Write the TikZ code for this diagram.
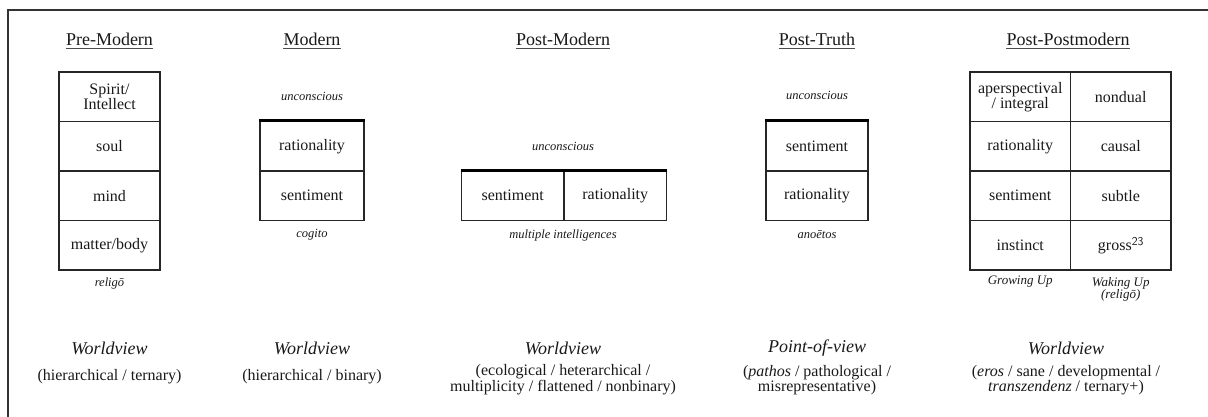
\documentclass[tikz,border=0pt]{standalone}
\usepackage{fontspec}
\setmainfont{Liberation Serif}
\begin{document}
\begin{tikzpicture}[x=1pt,y=-1pt,
  frameline/.style={line width=1.4pt,draw=black!80},
  title/.style={font=\fontsize{18}{20}\selectfont,inner xsep=0pt,text=black!90},
  uline/.style={line width=0.9pt,draw=black!70},
  cell/.style={draw=black!85,line width=1.2pt,minimum height=49.5pt,inner sep=0pt,
    align=center,font=\fontsize{16}{15}\selectfont,text=black!90},
  topbar/.style={line width=3pt,draw=black},
  smallit/.style={font=\fontsize{12.5}{12}\selectfont\itshape,align=center,text=black!90},
  subit/.style={font=\fontsize{13}{12}\selectfont\itshape,align=center,text=black!90},
  wv/.style={font=\fontsize{18}{20}\selectfont\itshape,text=black!90},
  desc/.style={font=\fontsize{16}{14.5}\selectfont,align=center,text=black!90}]
\useasboundingbox (0,0) rectangle (1208,416);
\draw[frameline] (8,417) -- (8,10) -- (1209,10);

% titles
\node[title] (t1) at (109.5,39) {Pre-Modern};
\node[title] (t2) at (312,39) {Modern};
\node[title] (t3) at (563,39) {Post-Modern};
\node[title] (t4) at (817,39) {Post-Truth};
\node[title] (t5) at (1068,39) {Post-Postmodern};
\foreach \t in {t1,t2,t3,t4,t5}
  \draw[uline] ([yshift=-3.5pt]\t.base west) -- ([yshift=-3.5pt]\t.base east);

% Pre-Modern
\node[cell,minimum width=101pt] (a1) at (109.5,96.75) {Spirit/\\Intellect};
\node[cell,minimum width=101pt] (a2) at (109.5,146.25) {soul};
\node[cell,minimum width=101pt] (a3) at (109.5,195.75) {mind};
\node[cell,minimum width=101pt] (a4) at (109.5,245.25) {matter/body};
\node[smallit] (a5) at (109.5,283) {religō};

% Modern
\node[smallit] (b0) at (312,96) {unconscious};
\node[cell,minimum width=104pt] (b1) at (312,146.25) {rationality};
\node[cell,minimum width=104pt] (b2) at (312,195.75) {sentiment};
\draw[topbar] (b1.north west) -- (b1.north east);
\node[smallit] (b3) at (312,235) {cogito};

% Post-Modern
\node[smallit] (c0) at (563,146) {unconscious};
\node[cell,minimum width=102.5pt] (c1) at (512.75,195.75) {sentiment};
\node[cell,minimum width=102.5pt] (c2) at (615.25,195.75) {rationality};
\draw[topbar] (c1.north west) -- (c2.north east);
\node[smallit] (c3) at (563,235) {multiple intelligences};

% Post-Truth
\node[smallit] (d0) at (817,95) {unconscious};
\node[cell,minimum width=102pt] (d1) at (817,146.25) {sentiment};
\node[cell,minimum width=102pt] (d2) at (817,195.75) {rationality};
\draw[topbar] (d1.north west) -- (d1.north east);
\node[smallit] (d3) at (817,235) {anoētos};

% Post-Postmodern
\node[cell,minimum width=100.5pt] (e1) at (1020.25,96.75) {aperspectival\\/ integral};
\node[cell,minimum width=100.5pt] (e2) at (1020.25,146.25) {rationality};
\node[cell,minimum width=100.5pt] (e3) at (1020.25,195.75) {sentiment};
\node[cell,minimum width=100.5pt] (e4) at (1020.25,245.25) {instinct};
\node[cell,minimum width=100.5pt] (f1) at (1120.75,96.75) {nondual};
\node[cell,minimum width=100.5pt] (f2) at (1120.75,146.25) {causal};
\node[cell,minimum width=100.5pt] (f3) at (1120.75,195.75) {subtle};
\node[cell,minimum width=100.5pt] (f4) at (1120.75,245.25) {gross\raisebox{5pt}{\fontsize{12}{12}\selectfont\sffamily 23}};
\node[subit] (e5) at (1020.25,282) {Growing Up};
\node[subit] (f5) at (1120.75,289) {Waking Up\\(religō)};

% bottom
\node[wv] (w1) at (109.5,348) {Worldview};
\node[wv] (w2) at (312,348) {Worldview};
\node[wv] (w3) at (563,348) {Worldview};
\node[wv] (w4) at (817,348) {Point-of-view};
\node[wv] (w5) at (1066,348) {Worldview};
\node[desc] (x1) at (109.5,377) {(hierarchical / ternary)};
\node[desc] (x2) at (312,377) {(hierarchical / binary)};
\node[desc] (x3) at (563,380) {(ecological / heterarchical /\\multiplicity / flattened / nonbinary)};
\node[desc] (x4) at (817,380) {(\textit{pathos} / pathological /\\misrepresentative)};
\node[desc] (x5) at (1066,380) {(\textit{eros} / sane / developmental /\\\textit{transzendenz} / ternary+)};
\end{tikzpicture}
\end{document}
